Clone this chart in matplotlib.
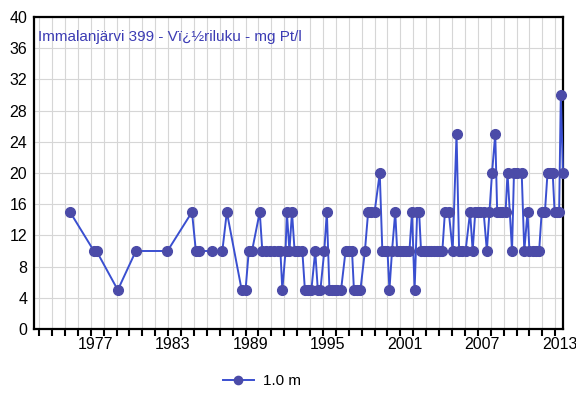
import matplotlib
matplotlib.use("Agg")
import matplotlib.pyplot as plt
from matplotlib import font_manager
import numpy as np

# ---- data ----
title = "Immalanjärvi 399 - Vï¿½riluku - mg Pt/l"
series_label = "1.0 m"
dates = [
    1975.4, 1977.25, 1977.45, 1979.1, 1980.5, 1982.95, 1984.85, 1985.15, 1985.4, 1986.4,
    1987.2, 1987.55, 1988.7, 1989.0, 1989.25, 1989.5, 1990.1, 1990.3, 1990.6, 1990.9,
    1991.2, 1991.5, 1991.7, 1991.85, 1992.1, 1992.2, 1992.4, 1992.6, 1992.8, 1993.1,
    1993.4, 1993.6, 1993.85, 1994.1, 1994.4, 1994.6, 1994.8, 1995.1, 1995.3, 1995.5,
    1995.7, 1995.9, 1996.1, 1996.4, 1996.75, 1997.0, 1997.25, 1997.4, 1997.65, 1997.9,
    1998.25, 1998.5, 1998.75, 1999.0, 1999.4, 1999.6, 1999.8, 2000.0, 2000.15, 2000.35,
    2000.6, 2000.75, 2001.0, 2001.2, 2001.45, 2001.7, 2001.9, 2002.1, 2002.3, 2002.45,
    2002.6, 2002.8, 2003.0, 2003.2, 2003.4, 2003.6, 2003.8, 2004.05, 2004.25, 2004.45,
    2004.75, 2005.05, 2005.35, 2005.55, 2005.8, 2006.05, 2006.4, 2006.6, 2006.8, 2007.0,
    2007.2, 2007.45, 2007.7, 2007.9, 2008.1, 2008.35, 2008.5, 2008.7, 2008.9, 2009.15,
    2009.3, 2009.65, 2009.8, 2010.05, 2010.4, 2010.6, 2010.85, 2011.0, 2011.25, 2011.5,
    2011.75, 2011.95, 2012.2, 2012.4, 2012.6, 2012.8, 2012.95, 2013.15, 2013.3, 2013.43,
    2013.6,
]
values = [
    15, 10, 10, 5, 10, 10, 15, 10, 10, 10,
    10, 15, 5, 5, 10, 10, 15, 10, 10, 10,
    10, 10, 10, 5, 10, 15, 10, 15, 10, 10,
    10, 5, 5, 5, 10, 5, 5, 10, 15, 5,
    5, 5, 5, 5, 10, 10, 10, 5, 5, 5,
    10, 15, 15, 15, 20, 10, 10, 10, 5, 10,
    15, 10, 10, 10, 10, 10, 15, 5, 15, 15,
    10, 10, 10, 10, 10, 10, 10, 10, 10, 15,
    15, 10, 25, 10, 10, 10, 15, 10, 15, 15,
    15, 15, 10, 15, 20, 25, 15, 15, 15, 15,
    20, 10, 20, 20, 20, 10, 15, 10, 10, 10,
    10, 15, 15, 20, 20, 20, 15, 15, 15, 30,
    20,
]
x_label_years = [1977, 1983, 1989, 1995, 2001, 2007, 2013]
y_ticks = [0, 4, 8, 12, 16, 20, 24, 28, 32, 36, 40]

# ---- fonts ----
avail = {f.name for f in font_manager.fontManager.ttflist}
narrow = "Liberation Sans Narrow" if "Liberation Sans Narrow" in avail else "Liberation Sans"
plt.rcParams['font.family'] = ['Liberation Sans', 'DejaVu Sans']

fig = plt.figure(figsize=(5.76, 3.96), dpi=100)
ax = fig.add_axes([34.3 / 576, 1 - 329 / 396, (563 - 34.3) / 576, (329 - 17) / 396])

line_color = '#3a4fd0'
marker_color = '#4b4ba8'
ax.plot(dates, values, color=line_color, lw=1.4, marker='o', ms=7,
        mfc=marker_color, mec=marker_color, clip_on=False, zorder=3,
        label=series_label)

ax.set_xlim(1972.63, 2013.6)
ax.set_ylim(0, 40)

years = np.arange(1973, 2014)
ax.set_xticks(years)
ax.set_xticklabels([])
ax.set_xticks([y + 0.35 for y in x_label_years], minor=True)
ax.set_xticklabels([str(y) for y in x_label_years], minor=True, fontsize=11.5)
ax.tick_params(axis='x', which='major', length=5, width=1.5, direction='out', color='black')
ax.tick_params(axis='x', which='minor', length=0, pad=6)

ax.set_yticks(y_ticks)
ax.set_yticklabels([str(v) for v in y_ticks], fontsize=11.5)
ax.tick_params(axis='y', length=0, pad=5)

ax.grid(True, which='major', color='#d6d6d6', lw=0.8)
ax.set_axisbelow(True)
for s in ax.spines.values():
    s.set_color('black')
    s.set_linewidth(1.6)

ax.text(38 / 576, 1 - 37 / 396, title, transform=fig.transFigure,
        fontsize=11, family=[narrow, 'DejaVu Sans'], color='#3c3cb4',
        va='center', ha='left')

fig.legend(loc='center', bbox_to_anchor=(262 / 576, 1 - 381 / 396), frameon=False,
           fontsize=11, handlelength=2.0, handletextpad=0.6, markerscale=0.85)

fig.savefig('out.png', dpi=100)
